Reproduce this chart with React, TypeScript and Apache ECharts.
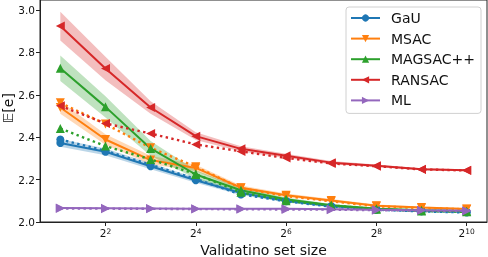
import React, { useEffect, useRef } from "react";
import * as echarts from "echarts";

const sizes = [2, 4, 8, 16, 32, 64, 128, 256, 512, 1024];
const xTicks = [4, 16, 64, 256, 1024];
const yTicks = [2.0, 2.2, 2.4, 2.6, 2.8, 3.0];

const methods = ["GaU", "MSAC", "MAGSAC++", "RANSAC", "ML"];
const yTitle = "𝔼[e]";
const xTitle = "Validatino set size";

const gauMean = [2.373, 2.331, 2.263, 2.197, 2.137, 2.100, 2.076, 2.061, 2.052, 2.048];
const gauLow = [2.355, 2.315, 2.249, 2.185, 2.127, 2.092, 2.069, 2.055, 2.047, 2.043];
const gauHigh = [2.391, 2.347, 2.277, 2.209, 2.147, 2.108, 2.083, 2.067, 2.057, 2.053];
const gauDot = [2.389, 2.336, 2.270, 2.203, 2.130, 2.098, 2.072, 2.058, 2.050, 2.045];

const msacMean = [2.540, 2.389, 2.292, 2.255, 2.162, 2.126, 2.101, 2.077, 2.068, 2.061];
const msacLow = [2.510, 2.364, 2.272, 2.240, 2.152, 2.118, 2.094, 2.071, 2.063, 2.056];
const msacHigh = [2.570, 2.414, 2.312, 2.270, 2.172, 2.134, 2.108, 2.083, 2.073, 2.066];
const msacDot = [2.562, 2.462, 2.350, 2.260, 2.160, 2.122, 2.098, 2.074, 2.066, 2.060];

const magMean = [2.725, 2.543, 2.347, 2.224, 2.150, 2.107, 2.079, 2.063, 2.055, 2.051];
const magLow = [2.665, 2.493, 2.312, 2.204, 2.138, 2.099, 2.073, 2.058, 2.050, 2.047];
const magHigh = [2.785, 2.593, 2.382, 2.244, 2.162, 2.115, 2.085, 2.068, 2.060, 2.055];
const magDot = [2.441, 2.358, 2.295, 2.226, 2.140, 2.100, 2.078, 2.060, 2.052, 2.048];

const ranMean = [2.924, 2.724, 2.540, 2.405, 2.345, 2.312, 2.280, 2.265, 2.249, 2.244];
const ranLow = [2.856, 2.669, 2.510, 2.387, 2.333, 2.302, 2.272, 2.259, 2.244, 2.239];
const ranHigh = [2.992, 2.779, 2.570, 2.423, 2.357, 2.322, 2.288, 2.271, 2.254, 2.249];
const ranDot = [2.548, 2.465, 2.417, 2.366, 2.333, 2.302, 2.276, 2.263, 2.248, 2.243];

const mlMean = [2.066, 2.065, 2.064, 2.063, 2.062, 2.062, 2.060, 2.058, 2.055, 2.053];
const mlLow = [2.063, 2.062, 2.061, 2.060, 2.059, 2.059, 2.057, 2.055, 2.052, 2.050];
const mlHigh = [2.069, 2.068, 2.067, 2.066, 2.065, 2.065, 2.063, 2.061, 2.058, 2.056];
const mlDot = [2.064, 2.063, 2.062, 2.061, 2.060, 2.059, 2.058, 2.056, 2.054, 2.052];

const colors = ["#1f77b4", "#ff7f0e", "#2ca02c", "#d62728", "#9467bd"];
const symbols = ["circle", "triangle", "triangle", "triangle", "triangle"];
const rotations = [0, 180, 0, 90, -90];
const symSizes = [8, 9, 9, 9, 9];

const FONT = "DejaVu Sans";

export default function App() {
  const ref = useRef<HTMLDivElement>(null);
  useEffect(() => {
    if (!ref.current) return;
    const chart = echarts.init(ref.current, null, { renderer: "svg" });
    const xs = sizes.map((s) => Math.log2(s));
    const means = [gauMean, msacMean, magMean, ranMean, mlMean];
    const lows = [gauLow, msacLow, magLow, ranLow, mlLow];
    const highs = [gauHigh, msacHigh, magHigh, ranHigh, mlHigh];
    const dots = [gauDot, msacDot, magDot, ranDot, mlDot];

    const series: any[] = [];
    methods.forEach((name, i) => {
      const lo = lows[i];
      const hi = highs[i];
      series.push({
        type: "custom",
        name: name + " band",
        silent: true,
        data: [[xs[0], means[i][0]]],
        clip: true,
        z: 1,
        renderItem: (_p: any, api: any) => {
          const pts: number[][] = [];
          for (let k = 0; k < xs.length; k++) pts.push(api.coord([xs[k], hi[k]]));
          for (let k = xs.length - 1; k >= 0; k--) pts.push(api.coord([xs[k], lo[k]]));
          return {
            type: "polygon",
            shape: { points: pts },
            style: { fill: colors[i], opacity: 0.3 },
          };
        },
      });
      series.push({
        type: "line",
        name,
        data: xs.map((x, k) => [x, means[i][k]]),
        symbol: symbols[i],
        symbolSize: symSizes[i],
        symbolRotate: rotations[i],
        showAllSymbol: true,
        lineStyle: { color: colors[i], width: 2 },
        itemStyle: { color: colors[i] },
        z: 3,
      });
      series.push({
        type: "line",
        name: name + " dotted",
        data: xs.map((x, k) => [x, dots[i][k]]),
        symbol: symbols[i],
        symbolSize: symSizes[i],
        symbolRotate: rotations[i],
        showAllSymbol: true,
        lineStyle: { color: colors[i], width: 2.4, type: [2.4, 3.4] },
        itemStyle: { color: colors[i] },
        z: 3,
      });
    });

    chart.setOption({
      animation: false,
      textStyle: { fontFamily: FONT },
      grid: {
        left: 40,
        top: 0,
        width: 447,
        height: 222,
        show: true,
        borderColor: "#222",
        borderWidth: 1,
        outerBoundsMode: "none",
        containLabel: false,
      },
      graphic: [
        {
          type: "text",
          x: 7.5,
          y: 108,
          rotation: Math.PI / 2,
          style: {
            text: yTitle,
            fontSize: 14,
            fill: "#111",
            fontFamily: FONT,
            align: "center",
            verticalAlign: "middle",
          },
        },
      ],
      legend: {
        data: methods,
        orient: "vertical",
        right: 7,
        top: 7,
        itemWidth: 29,
        itemHeight: 9,
        itemGap: 6.6,
        padding: [4, 6, 6, 4],
        borderColor: "#d0d0d0",
        borderWidth: 1,
        borderRadius: 3,
        backgroundColor: "rgba(255,255,255,0.8)",
        textStyle: { fontSize: 14, color: "#111", fontFamily: FONT, padding: [0, 0, 0, 6] },
      },
      xAxis: {
        type: "value",
        min: 0.55,
        max: 10.45,
        name: xTitle,
        nameLocation: "middle",
        nameGap: 20,
        nameTextStyle: { fontSize: 14, color: "#111", fontFamily: FONT },
        axisLine: { show: true, lineStyle: { color: "#222" } },
        axisTick: { show: true, length: 4, lineStyle: { color: "#222" }, customValues: xTicks.map((t) => Math.log2(t)) },
        axisLabel: {
          customValues: xTicks.map((t) => Math.log2(t)),
          margin: 5,
          formatter: (v: number) => `{b|2}{e|${Math.round(v)}}`,
          rich: {
            b: { fontSize: 10.5, color: "#111", fontFamily: FONT, verticalAlign: "bottom" },
            e: { fontSize: 7.5, color: "#111", fontFamily: FONT, verticalAlign: "top" },
          },
        },
        splitLine: { show: false },
      },
      yAxis: {
        type: "value",
        min: 2.0,
        max: 3.047,
        axisLine: { show: true, lineStyle: { color: "#222" } },
        axisTick: { show: true, length: 4, lineStyle: { color: "#222" }, customValues: yTicks },
        axisLabel: {
          customValues: yTicks,
          fontSize: 10.5,
          color: "#111",
          margin: 5,
          formatter: (v: number) => v.toFixed(1),
        },
        splitLine: { show: false },
      },
      series,
    });
    return () => chart.dispose();
  }, []);
  return <div ref={ref} style={{ position: "fixed", left: 0, top: 0, width: 488, height: 257 }} />;
}
